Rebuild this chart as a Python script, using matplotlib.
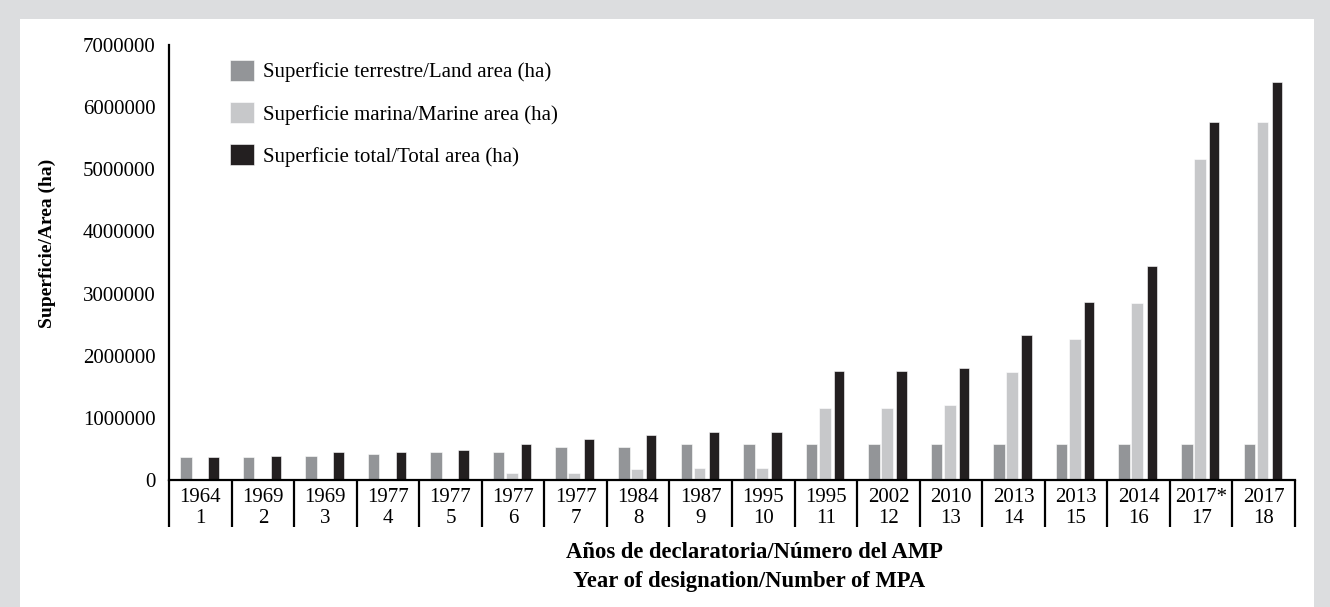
import matplotlib
matplotlib.use("Agg")
import matplotlib.pyplot as plt
from matplotlib.patches import Rectangle
import numpy as np

# values (ha)
years = ["1964", "1969", "1969", "1977", "1977", "1977", "1977", "1984", "1987",
         "1995", "1995", "2002", "2010", "2013", "2013", "2014", "2017*", "2017"]
mpa_numbers = [str(i) for i in range(1, 19)]
land_area = [366000, 366000, 390000, 420000, 450000, 450000, 530000, 527000, 585000,
             585000, 585000, 585000, 585000, 585000, 585000, 585000, 585000, 585000]
marine_area = [0, 5000, 5000, 5000, 5000, 120000, 120000, 170000, 200000,
               200000, 1157000, 1157000, 1210000, 1730000, 2270000, 2850000, 5160000, 5760000]
total_area = [366000, 390000, 450000, 450000, 480000, 585000, 665000, 720000, 770000,
              770000, 1750000, 1750000, 1810000, 2330000, 2870000, 3440000, 5760000, 6400000]
y_ticks = [0, 1000000, 2000000, 3000000, 4000000, 5000000, 6000000, 7000000]

series_labels = ["Superficie terrestre/Land area (ha)",
                 "Superficie marina/Marine area (ha)",
                 "Superficie total/Total area (ha)"]
colors = ["#939598", "#c7c8ca", "#231f20"]

plt.rcParams["font.family"] = ["Liberation Serif", "DejaVu Serif"]

W, H = 1330, 607
fig = plt.figure(figsize=(W / 100, H / 100), dpi=100)
fig.patch.set_facecolor("#dcdddf")
# white panel inside the grey frame
fig.patches.append(Rectangle((20 / W, 0), (1314 - 20) / W, 1 - 19 / H,
                             transform=fig.transFigure, facecolor="white",
                             edgecolor="none", zorder=-10))

left, right, top, bottom = 169, 1295, 45, 480
ax = fig.add_axes([left / W, 1 - bottom / H, (right - left) / W, (bottom - top) / H])
ax.set_facecolor("none")
ax.set_zorder(5)

x = np.arange(len(years))
ax.bar(x - 0.23, land_area, width=0.185, color=colors[0], edgecolor="white",
       linewidth=0.4, label=series_labels[0])
ax.bar(x - 0.02, marine_area, width=0.19, color=colors[1], edgecolor="white",
       linewidth=0.4, label=series_labels[1])
ax.bar(x + 0.21, total_area, width=0.165, color=colors[2], edgecolor="white",
       linewidth=0.4, label=series_labels[2])

ax.set_xlim(-0.5, len(years) - 0.5)
ax.set_ylim(0, 7000000)
ax.set_yticks(y_ticks)
ax.set_yticklabels([str(v) for v in y_ticks], fontsize=15)
ax.tick_params(axis="y", length=0, pad=9.5)

ax.set_xticks(x)
ax.set_xticklabels([f"{yr}\n{n}" for yr, n in zip(years, mpa_numbers)],
                   fontsize=15, linespacing=1.15)
ax.tick_params(axis="x", which="major", length=0, pad=5.5)
ax.set_xticks(np.arange(-0.5, len(years)), minor=True)
ax.tick_params(axis="x", which="minor", length=34, width=1.6, color="black",
               direction="out")

for side in ["top", "right"]:
    ax.spines[side].set_visible(False)
for side in ["left", "bottom"]:
    ax.spines[side].set_linewidth(1.6)
    ax.spines[side].set_color("black")

fig.text(47 / W, 1 - 243 / H, "Superficie/Area (ha)", rotation=90, fontsize=14,
         fontweight="bold", ha="center", va="center")
fig.text(754 / W, 1 - 552 / H, "Años de declaratoria/Número del AMP", fontsize=16.3,
         fontweight="bold", ha="center", va="center")
fig.text(749 / W, 1 - 582 / H, "Year of designation/Number of MPA", fontsize=16.3,
         fontweight="bold", ha="center", va="center")

ax.legend(loc="upper left", bbox_to_anchor=(230 / W, 1 - 60 / H),
          bbox_transform=fig.transFigure, frameon=False, fontsize=15,
          handlelength=1.15, handleheight=1.15, handletextpad=0.45,
          labelspacing=0.95, borderpad=0, borderaxespad=0)

fig.savefig("out.png", dpi=100, facecolor=fig.get_facecolor())
